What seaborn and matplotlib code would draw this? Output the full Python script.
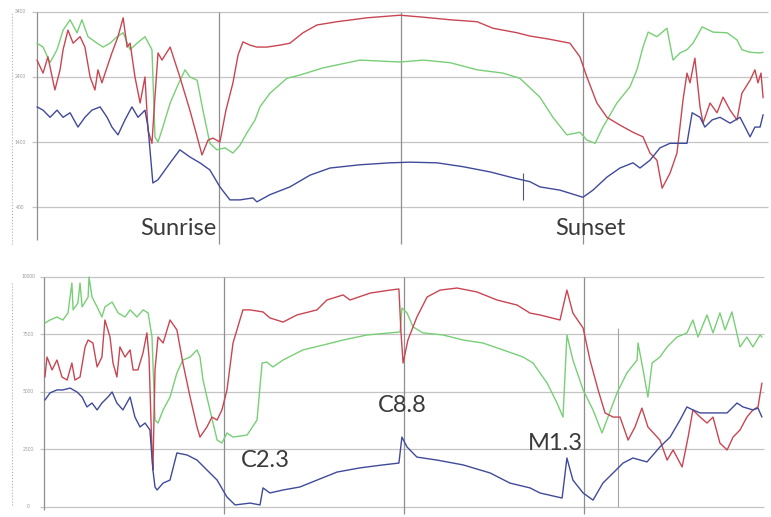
import pandas as pd
import matplotlib
matplotlib.use("Agg")
import matplotlib.pyplot as plt
import seaborn as sns

# --- Data (x = hours, y = amplitude) ---
# upper panel: quiet day
top_red_hr = [0.00, 0.20, 0.36, 0.59, 0.76, 0.86, 1.02, 1.19, 1.42, 1.58, 1.75, 1.91, 2.01, 2.14, 2.31, 2.47,
              2.67, 2.84, 2.97, 3.07, 3.23, 3.40, 3.56, 3.66, 3.79, 3.89, 3.99, 4.12, 4.39, 4.71, 5.04, 5.28,
              5.44, 5.64, 5.80, 6.03, 6.23, 6.46, 6.63, 6.79, 7.02, 7.25, 7.58, 8.01, 8.34, 8.77, 9.23, 9.89,
              10.88, 11.97, 12.73, 13.62, 14.51, 15.03, 15.83, 16.25, 16.91, 17.57, 17.90, 18.13, 18.46, 18.79,
              19.22, 19.65, 19.98, 20.21, 20.44, 20.61, 20.87, 21.10, 21.30, 21.43, 21.53, 21.69, 21.86, 21.96,
              22.19, 22.42, 22.62, 22.85, 23.08, 23.24, 23.51, 23.67, 23.77, 23.87, 23.94]
top_red_amp = [2660, 2460, 2710, 2200, 2510, 2820, 3120, 2920, 3020, 2860, 2400, 2200, 2510, 2310, 2550, 2770,
               3020, 3310, 2860, 2920, 2400, 2000, 2400, 1580, 1380, 2100, 2770, 2660, 2860, 2400, 1890, 1480,
               1200, 1430, 1460, 1400, 1890, 2310, 2740, 2940, 2890, 2860, 2860, 2890, 2920, 3080, 3200, 3250,
               3310, 3350, 3320, 3280, 3250, 3150, 3080, 3030, 2980, 2920, 2710, 2400, 2000, 1780,
               1660, 1550, 1480, 1230, 1120, 690, 920, 1230, 2050, 2460, 2310, 2690, 1940, 1690,
               2000, 1850, 2090, 1890, 1740, 2150, 2350, 2510, 2310, 2460, 2080]

top_green_hr = [0.00, 0.20, 0.43, 0.66, 0.86, 1.09, 1.32, 1.48, 1.68, 1.98, 2.18, 2.41, 2.64, 2.84, 3.07, 3.30,
                3.56, 3.79, 3.89, 3.99, 4.15, 4.39, 4.62, 4.88, 5.04, 5.28, 5.47, 5.70, 5.93, 6.20, 6.46, 6.69,
                6.92, 7.19, 7.35, 7.68, 8.24, 8.67, 9.43, 10.65, 11.97, 12.73, 13.62, 14.51, 15.36, 15.92,
                16.58, 17.01, 17.47, 17.90, 18.13, 18.40, 18.66, 19.12, 19.55, 19.78, 19.98, 20.15, 20.44,
                20.77, 20.97, 21.20, 21.43, 21.63, 21.93, 22.29, 22.75, 23.08, 23.24, 23.51, 23.84, 23.94]
top_green_amp = [2920, 2860, 2620, 2820, 3120, 3280, 3080, 3280, 3020, 2920, 2860, 2920, 3020, 3080, 2820, 2920,
                 3020, 2820, 1480, 1400, 1630, 2000, 2250, 2510, 2400, 2350, 1890, 1380, 1280, 1310, 1230, 1350,
                 1540, 1740, 1940, 2150, 2380, 2430, 2540, 2660, 2630, 2660, 2620, 2510, 2460, 2380,
                 2090, 1780, 1510, 1550, 1430, 1380, 1630, 2000, 2250, 2510, 2860, 3090, 3020,
                 3150, 2660, 2770, 2820, 2920, 3170, 3090, 3080, 2970, 2820, 2780, 2770, 2780]

top_blue_hr = [0.00, 0.20, 0.43, 0.66, 0.86, 1.09, 1.35, 1.58, 1.81, 2.08, 2.31, 2.47, 2.67, 2.90, 3.13, 3.33,
               3.56, 3.66, 3.82, 3.99, 4.39, 4.71, 5.04, 5.37, 5.70, 6.03, 6.36, 6.69, 7.12, 7.25, 7.68, 8.34,
               9.00, 9.66, 10.65, 11.64, 12.30, 13.19, 14.05, 14.94, 15.69, 16.25, 16.58, 17.24, 18.00, 18.33,
               18.79, 19.22, 19.65, 19.88, 20.21, 20.54, 20.87, 21.20, 21.43, 21.60, 21.86, 22.02, 22.26, 22.52,
               22.85, 23.18, 23.51, 23.67, 23.84, 23.94]
top_blue_amp = [1940, 1890, 1780, 1890, 1780, 1850, 1630, 1780, 1890, 1940, 1780, 1630, 1510, 1740, 1940, 1780,
                1890, 1630, 770, 820, 1080, 1280, 1170, 1080, 970, 710, 510, 510, 540, 480, 590, 710,
                890, 1000, 1050, 1080, 1090, 1080, 1020, 940, 850, 790, 710, 660, 550, 660,
                860, 1000, 1080, 1000, 1120, 1310, 1380, 1380, 1380, 1850, 1780, 1630, 1740, 1780,
                1690, 1780, 1480, 1630, 1630, 1820]

# lower panel: flare day
bot_green_hr = [0.03, 0.20, 0.43, 0.63, 0.80, 0.93, 0.97, 1.13, 1.20, 1.27, 1.47, 1.50, 1.60, 1.77, 1.93, 2.03,
                2.27, 2.47, 2.70, 2.87, 3.10, 3.30, 3.47, 3.60, 3.70, 3.80, 3.97, 4.20, 4.43, 4.63, 4.87, 5.10,
                5.20, 5.30, 5.53, 5.77, 5.93, 6.10, 6.30, 6.77, 7.10, 7.27, 7.43, 7.63, 7.97, 8.63, 9.30, 9.97,
                10.77, 11.53, 11.87, 11.93, 12.10, 12.30, 12.63, 13.30, 13.97, 14.63, 15.30, 15.97, 16.30, 16.77,
                17.10, 17.30, 17.43, 17.63, 17.97, 18.30, 18.60, 18.80, 19.10, 19.43, 19.77, 19.80, 19.97, 20.13,
                20.27, 20.53, 20.77, 21.10, 21.43, 21.63, 21.80, 22.10, 22.30, 22.53, 22.70, 22.93, 23.20, 23.43,
                23.63, 23.87, 23.93]
bot_green_amp = [8000, 8130, 8260, 8130, 8440, 9740, 8570, 8870, 9740, 8700, 9130, 10000, 9130, 8700, 8260, 8700,
                 8910, 8440, 8260, 8570, 8260, 8570, 8440, 7390, 3780, 3650, 4220, 4780, 5830, 6390, 6520, 6830,
                 6520, 5520, 4220, 2910, 2780, 3220, 3040, 3130, 3780, 6260, 6300, 6090, 6390, 6830, 7040, 7260,
                 7480, 7570, 7610, 8650, 8440, 7830, 7570, 7480, 7260, 7130, 6830, 6520, 6260, 5390,
                 4520, 3910, 7480, 6390, 5090, 4220, 3220, 3910, 4960, 5830, 6390, 7130, 5960, 4780,
                 6260, 6520, 6960, 7390, 7570, 8130, 7390, 8350, 7570, 8440, 7700, 8480, 6960, 7390,
                 6960, 7480, 7390]

bot_red_hr = [0.03, 0.10, 0.27, 0.43, 0.60, 0.77, 0.93, 1.03, 1.20, 1.37, 1.47, 1.63, 1.77, 1.93, 2.03, 2.20,
              2.30, 2.43, 2.53, 2.70, 2.87, 2.97, 3.13, 3.30, 3.43, 3.50, 3.60, 3.63, 3.70, 3.80, 3.97, 4.20,
              4.43, 4.63, 4.87, 5.10, 5.20, 5.43, 5.60, 5.77, 5.93, 6.10, 6.30, 6.63, 6.87, 7.30, 7.53, 7.97,
              8.43, 9.10, 9.43, 9.97, 10.20, 10.87, 11.53, 11.83, 11.90, 11.97, 12.13, 12.43, 12.77, 13.20,
              13.77, 14.43, 15.10, 15.77, 16.20, 16.53, 17.20, 17.43, 17.63, 17.97, 18.20, 18.47, 18.70, 18.97,
              19.20, 19.47, 19.70, 19.93, 20.13, 20.53, 20.77, 20.97, 21.27, 21.47, 21.63, 21.87, 22.10, 22.30,
              22.53, 22.77, 22.97, 23.20, 23.43, 23.63, 23.80, 23.93]
bot_red_amp = [5650, 6520, 5960, 6390, 5650, 5520, 6260, 5520, 5650, 6960, 7260, 7130, 6090, 6520, 8130, 7390,
               6260, 5650, 6960, 6520, 6830, 5960, 5960, 6700, 7570, 6520, 2350, 1610, 5960, 7390, 7130, 8130,
               7700, 6260, 4780, 3480, 3040, 3480, 3910, 3780, 4220, 5090, 7130, 8570, 8570, 8480, 8220, 8040,
               8350, 8570, 9000, 9220, 9000, 9300, 9430, 9480, 7570, 6260, 7260, 8260, 9130, 9430,
               9520, 9350, 9000, 8780, 8430, 8350, 8130, 9430, 8430, 7780, 6390, 5090, 4090, 3910,
               3910, 2910, 3480, 4300, 3480, 2910, 2040, 2480, 1740, 3040, 4220, 3910, 3650, 3910,
               2780, 2480, 3040, 3350, 3910, 4220, 4350, 5390]

bot_blue_hr = [0.03, 0.20, 0.43, 0.63, 0.87, 1.10, 1.27, 1.43, 1.60, 1.77, 1.93, 2.13, 2.27, 2.43, 2.63, 2.87,
               3.03, 3.20, 3.37, 3.53, 3.63, 3.70, 3.77, 3.97, 4.20, 4.43, 4.77, 5.10, 5.43, 5.77, 6.10, 6.37,
               6.87, 7.20, 7.30, 7.53, 7.97, 8.53, 9.10, 9.77, 10.53, 11.30, 11.83, 11.93, 12.10, 12.43, 13.10,
               13.97, 14.87, 15.53, 16.20, 16.53, 17.27, 17.43, 17.63, 17.97, 18.30, 18.63, 18.97, 19.30, 19.63,
               20.10, 20.53, 20.87, 21.20, 21.43, 21.63, 21.87, 22.10, 22.43, 22.77, 23.10, 23.30, 23.63, 23.80,
               23.93]
bot_blue_amp = [4650, 4960, 5090, 5090, 5170, 5000, 4780, 4350, 4520, 4220, 4520, 4780, 5000, 4520, 4220, 4780,
                3910, 3480, 3650, 3350, 1610, 870, 740, 1040, 1170, 2350, 2260, 2040, 1610, 1170, 430, 90,
                170, 90, 830, 610, 740, 870, 1170, 1520, 1700, 1830, 1910, 3040, 2610, 2170, 2040,
                1830, 1480, 1040, 830, 610, 390, 2130, 1170, 610, 300, 1040, 1480, 1910, 2130,
                1960, 2610, 3040, 3780, 4350, 4220, 4090, 4090, 4090, 4090, 4520, 4350, 4220, 4300,
                3910]

grid_top = [400, 1400, 2400, 3400]
grid_top_labels = ["400", "1400", "2400", "3400"]
grid_bot = [0, 2500, 5000, 7500, 10000]
grid_bot_labels = ["0", "2500", "5000", "7500", "10000"]
event_hours = [6, 12, 18]

colors = {"red": "#c84652", "green": "#78cf76", "blue": "#404a9a"}


def make_df(**series):
    parts = []
    for name, (hrs, amps) in series.items():
        parts.append(pd.DataFrame({"hour": hrs, "amp": amps, "trace": name}))
    return pd.concat(parts, ignore_index=True)


df_top = make_df(green=(top_green_hr, top_green_amp), red=(top_red_hr, top_red_amp),
                 blue=(top_blue_hr, top_blue_amp))
df_bot = make_df(green=(bot_green_hr, bot_green_amp), red=(bot_red_hr, bot_red_amp),
                 blue=(bot_blue_hr, bot_blue_amp))

sns.set_theme(style="white")
plt.rcParams["font.family"] = ["Lato", "DejaVu Sans"]

fig = plt.figure(figsize=(7.71, 5.17), dpi=100)
ax1 = fig.add_axes([0, 0.5164, 1, 0.4836])
ax2 = fig.add_axes([0, 0, 1, 0.5068])

gcol = "#c4c4c4"
vcol = "#8f8f8f"
tcol = "#3a3a3a"

# --- upper panel ---
ax1.set_xlim(-1.22, 24.2)
ax1.set_ylim(-261, 3584)
ax1.hlines(grid_top, -0.15, 24.1, color=gcol, lw=0.9)
ax1.vlines(0, -110, 3400, color=vcol, lw=0.9)
ax1.vlines(-0.82, -170, 3400, color="#b0b0b0", lw=0.8, linestyles=":")
ax1.vlines(event_hours, -170, 3400, color=vcol, lw=0.9)
ax1.vlines(16.02, 508, 923, color="#555577", lw=0.8)
sns.lineplot(data=df_top, x="hour", y="amp", hue="trace", palette=colors, estimator=None,
             sort=False, lw=1.0, legend=False, ax=ax1)
for v, lab in zip(grid_top, grid_top_labels):
    ax1.text(-0.56, v, lab, fontsize=3.5, color="#9a9a9a", ha="center", va="center")
ax1.text(3.40, 77, "Sunrise", fontsize=17, color=tcol, ha="left", va="center")
ax1.text(17.08, 77, "Sunset", fontsize=17, color=tcol, ha="left", va="center")

# --- lower panel ---
ax2.set_xlim(-1.467, 24.233)
ax2.set_ylim(-435, 10957)
ax2.hlines(grid_bot, -0.15, 24.0, color=gcol, lw=0.9)
ax2.vlines(0, -130, 10000, color=vcol, lw=0.9)
ax2.vlines(-1.07, 100, 9800, color="#b0b0b0", lw=0.8, linestyles=":")
ax2.vlines(event_hours, -300, 10000, color=vcol, lw=0.9)
ax2.vlines(19.13, 0, 7800, color="#a5a5a5", lw=0.8)
sns.lineplot(data=df_bot, x="hour", y="amp", hue="trace", palette=colors, estimator=None,
             sort=False, lw=1.0, legend=False, ax=ax2)
for v, lab in zip(grid_bot, grid_bot_labels):
    ax2.text(-0.53, v, lab, fontsize=3.5, color="#9a9a9a", ha="center", va="center")
ax2.text(6.57, 2040, "C2.3", fontsize=17, color=tcol, ha="left", va="center")
ax2.text(11.13, 4430, "C8.8", fontsize=17, color=tcol, ha="left", va="center")
ax2.text(16.13, 2780, "M1.3", fontsize=17, color=tcol, ha="left", va="center")

for ax in (ax1, ax2):
    ax.axis("off")

fig.savefig("out.png", dpi=100)
